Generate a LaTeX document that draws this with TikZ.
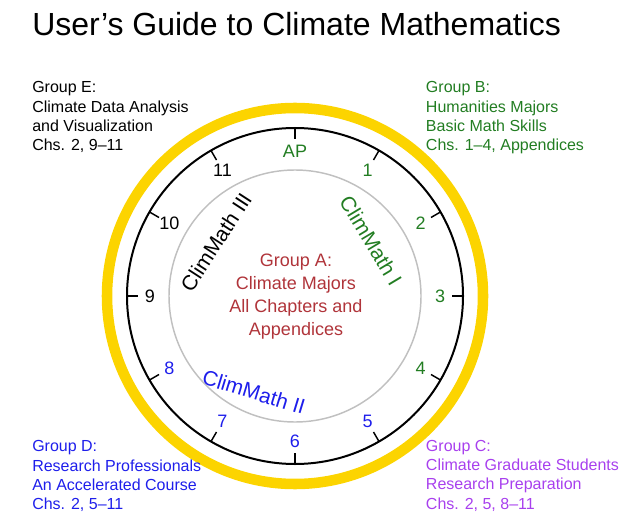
\documentclass[tikz,border=0pt]{standalone}
\usepackage{fontspec}
\setmainfont{Liberation Sans}
\usepackage{tikz}

\definecolor{ringyellow}{RGB}{252,212,0}
\definecolor{ringgray}{RGB}{192,192,192}
\definecolor{groupgreen}{RGB}{34,125,34}
\definecolor{groupblue}{RGB}{30,30,235}
\definecolor{grouppurple}{RGB}{168,64,238}
\definecolor{groupred}{RGB}{176,52,58}

\tikzset{
    grouptext/.style={anchor=north west, inner sep=0pt, align=left, font=\fontsize{12}{14.4}\selectfont},
    clocknum/.style={inner sep=0pt, font=\fontsize{13.5}{16}\selectfont},
    coursetext/.style={inner sep=0pt, font=\fontsize{15.75}{18}\selectfont},
    clocktick/.style={line width=1.1pt},
}

\begin{document}
\begin{tikzpicture}[x=0.75pt,y=0.75pt,yscale=-1,xscale=1]
    \useasboundingbox (0,0) rectangle (631,527);

    %Shape: Circle [clock centre]
    \coordinate (clockcentre) at (295,296);
    %Shape: Circle [yellow ring]
    \draw [color=ringyellow, line width=7.9pt] (clockcentre) circle (188);
    %Shape: Circle [clock face]
    \draw [color=black, line width=1.5pt] (clockcentre) circle (168);
    %Shape: Circle [inner gray ring]
    \draw [color=ringgray, line width=1.1pt] (clockcentre) circle (126);

    %Shape: Ticks
    \draw [clocktick] (295,128) -- (295,139) ;
    \draw [clocktick] (379,150.5) -- (373.5,160) ;
    \draw [clocktick] (440.5,212) -- (431,217.5) ;
    \draw [clocktick] (463,296) -- (452,296) ;
    \draw [clocktick] (440.5,380) -- (431,374.5) ;
    \draw [clocktick] (379,441.5) -- (373.5,432) ;
    \draw [clocktick] (295,464) -- (295,453) ;
    \draw [clocktick] (211,441.5) -- (216.5,432) ;
    \draw [clocktick] (149.5,380) -- (159,374.5) ;
    \draw [clocktick] (127,296) -- (138,296) ;
    \draw [clocktick] (149.5,212) -- (159,217.5) ;
    \draw [clocktick] (211,150.5) -- (216.5,160) ;

    % Text Node
    \draw (32,36) node [anchor=base west][inner sep=0pt] (title) {\fontsize{24}{28}\selectfont User’s Guide to Climate Mathematics};

    % Text Node
    \draw (295,151) node [clocknum, text=groupgreen] (numAP) {AP};
    % Text Node
    \draw (367.5,170.4) node [clocknum, text=groupgreen] (num1) {1};
    % Text Node
    \draw (420.6,223.5) node [clocknum, text=groupgreen] (num2) {2};
    % Text Node
    \draw (440,296) node [clocknum, text=groupgreen] (num3) {3};
    % Text Node
    \draw (420.6,368.5) node [clocknum, text=groupgreen] (num4) {4};
    % Text Node
    \draw (367.5,421.6) node [clocknum, text=groupblue] (num5) {5};
    % Text Node
    \draw (295,441) node [clocknum, text=groupblue] (num6) {6};
    % Text Node
    \draw (222.5,421.6) node [clocknum, text=groupblue] (num7) {7};
    % Text Node
    \draw (169.4,368.5) node [clocknum, text=groupblue] (num8) {8};
    % Text Node
    \draw (150,296) node [clocknum] (num9) {9};
    % Text Node
    \draw (169.4,223.5) node [clocknum] (num10) {10};
    % Text Node
    \draw (222.5,170.4) node [clocknum] (num11) {11};

    % Text Node
    \draw (371,240.5) node [coursetext, text=groupgreen, rotate=-59] (climmathI) {ClimMath I};
    % Text Node
    \draw (254,392) node [coursetext, text=groupblue, rotate=-17] (climmathII) {ClimMath II};
    % Text Node
    \draw (216,242) node [coursetext, rotate=57] (climmathIII) {ClimMath III};

    % Text Node
    \draw (296,297) node [inner sep=0pt, align=center, text=groupred, font=\fontsize{13.5}{17.25}\selectfont] (groupA) {Group A:\\Climate Majors\\All Chapters and\\Appendices};

    % Text Node
    \draw (32,81.5) node [grouptext] (groupE) {Group E:\\Climate Data Analysis\\and Visualization\\Chs. 2, 9--11};
    % Text Node
    \draw (425.7,81.5) node [grouptext, text=groupgreen] (groupB) {Group B:\\Humanities Majors\\Basic Math Skills\\Chs. 1--4, Appendices};
    % Text Node
    \draw (32,440.5) node [grouptext, text=groupblue] (groupD) {Group D:\\Research Professionals\\An Accelerated Course\\Chs. 2, 5--11};
    % Text Node
    \draw (425.7,440) node [grouptext, text=grouppurple] (groupC) {Group C:\\Climate Graduate Students\\Research Preparation\\Chs. 2, 5, 8--11};

\end{tikzpicture}
\end{document}
